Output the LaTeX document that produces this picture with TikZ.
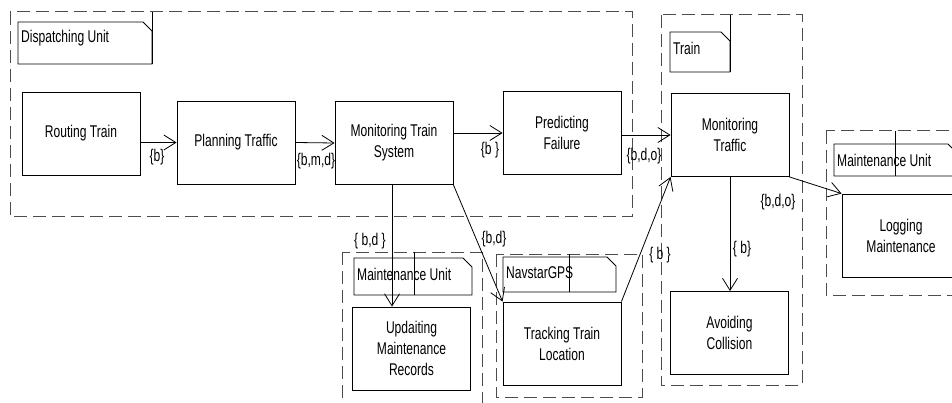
\documentclass[tikz,border=0pt]{standalone}
\usepackage{fontspec}
\setmainfont{Liberation Sans}[FakeStretch=0.71]
\usetikzlibrary{arrows.meta}

% note with a folded corner: name, x1, y1, x2, y2, text
\newcommand{\unitnote}[6]{%
  \draw[line width=0.9pt] (#2,#3) -- (#4-9,#3) -- (#4,#3+9) -- (#4,#5) -- (#2,#5) -- cycle;
  \node[anchor=west,inner sep=0pt] (#1) at (#2+3,#3+16) {#6};
}

\begin{document}
\begin{tikzpicture}[x=1pt,y=-1pt,
  every node/.style={font=\fontsize{17}{21}\selectfont},
  proc/.style={draw,line width=0.9pt,minimum width=118pt,minimum height=83pt,align=center,inner sep=0pt},
  grp/.style={draw=black!70,dash pattern=on 13pt off 6pt,line width=1pt},
  flow/.style={line width=0.8pt,-{Straight Barb[length=12pt,width=15pt]}},
  lbl/.style={inner sep=0pt}]
\useasboundingbox (0,0) rectangle (952,403);
\clip (0,0) rectangle (952,403);

% groups
\draw[grp] (10,12) rectangle (632,217);
\draw[grp] (661,15) rectangle (802,385);
\draw[grp] (826,131) rectangle (980,295);
\draw[grp] (342,252) rectangle (482,420);
\draw[grp] (496,254) rectangle (642,397);

% notes
\unitnote{ndisp}{18}{22}{152}{64}{Dispatching Unit}
\unitnote{ntrain}{670}{32}{730}{72}{Train}
\unitnote{nmaintr}{834}{144}{957}{176}{Maintenance Unit}
\unitnote{nmaintb}{354}{258}{472}{295}{Maintenance Unit}
\unitnote{ngps}{503}{257}{616}{292}{NavstarGPS}
\draw[line width=0.8pt] (152,12) -- (152,64);
\draw[line width=0.8pt] (730,15) -- (730,72);
\draw[line width=0.8pt] (895,131) -- (895,176);
\draw[line width=0.8pt] (414,252) -- (414,295);
\draw[line width=0.8pt] (569,254) -- (569,292);

% activities
\node[proc] (routing) at (81,133.5) {Routing Train};
\node[proc] (planning) at (236,142.5) {Planning Traffic};
\node[proc] (montrain) at (394,143) {Monitoring Train\\System};
\node[proc] (predict) at (562,133) {Predicting\\Failure};
\node[proc] (montraffic) at (730,135) {Monitoring\\Traffic};
\node[proc] (avoid) at (729.5,333) {Avoiding\\Collision};
\node[proc] (logging) at (901,235.5) {Logging\\Maintenance};
\node[proc] (updating) at (411.5,348.5) {Updaiting\\Maintenance\\Records};
\node[proc] (tracking) at (562,343.5) {Tracking Train\\Location};

% flows
\draw[flow] (routing.east |- planning.west) -- (planning.west);
\draw[flow] (planning.east) -- (montrain.west);
\draw[flow] (montrain.east |- predict.west) -- (predict.west);
\draw[flow] (predict.east |- montraffic.west) -- (montraffic.west);
\draw[flow] (montraffic.south) -- (montraffic.south |- avoid.north);
\draw[flow] (montraffic.south east) -- (logging.north west);
\draw[flow] ([xshift=-2pt]montrain.south) -- ([xshift=-2pt]montrain.south |- updating.north);
\draw[flow] (montrain.south east) -- (tracking.north west);
\draw[flow] (tracking.north east) -- (montraffic.south west);

% flow labels
\node[lbl] (l1) at (157,157) {\{b\}};
\node[lbl] (l2) at (316,161) {\{b,m,d\}};
\node[lbl] (l3) at (490,150) {\{b \}};
\node[lbl] (l4) at (644,156) {\{b,d,o\}};
\node[lbl] (l5) at (778,202) {\{b,d,o\}};
\node[lbl] (l6) at (742,249) {\{ b\}};
\node[lbl] (l7) at (660,255) {\{ b \}};
\node[lbl] (l8) at (370,241) {\{ b,d \}};
\node[lbl] (l9) at (494,239) {\{b,d\}};
\end{tikzpicture}
\end{document}
